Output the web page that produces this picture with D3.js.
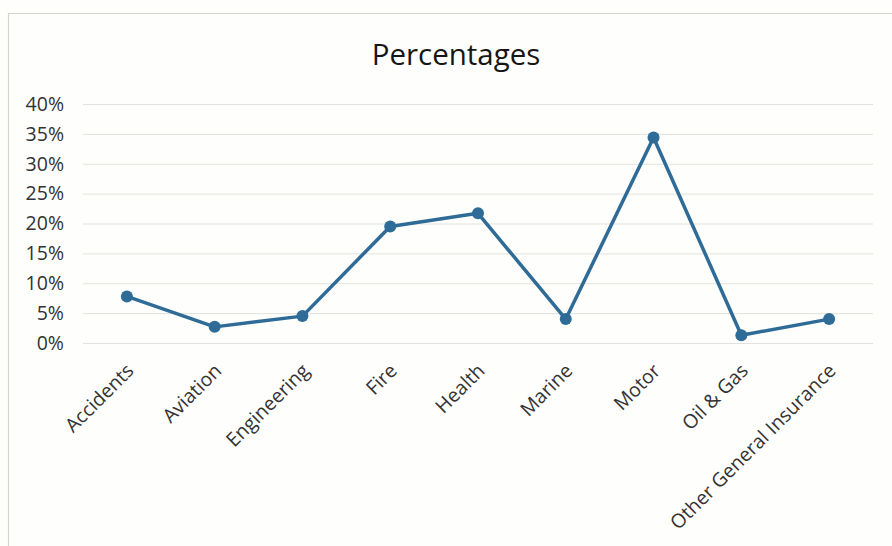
<!DOCTYPE html>
<html>
<head>
<meta charset="utf-8">
<script src="https://cdn.jsdelivr.net/npm/d3@7/dist/d3.min.js"></script>
<style>
  html, body { margin: 0; padding: 0; background: #fefefc; }
  svg { display: block; font-family: "Open Sans", Lato, sans-serif; }
</style>
</head>
<body>
<svg id="chart" width="892" height="546"></svg>
<script>
// Share of premiums by line of business
const categories = ["Accidents", "Aviation", "Engineering", "Fire", "Health", "Marine", "Motor", "Oil & Gas", "Other General Insurance"];
const percentages = [7.8, 2.7, 4.5, 19.5, 21.7, 4.0, 34.4, 1.3, 4.0];
const yTicks = [0, 5, 10, 15, 20, 25, 30, 35, 40];
const title = "Percentages";

const svg = d3.select("#chart");
const W = 892, H = 546;
const plot = { left: 83, right: 873, top: 104, bottom: 343 };

// chart frame
svg.append("path")
  .attr("d", `M8.5,${H} L8.5,13.5 L${W},13.5`)
  .attr("fill", "none")
  .attr("stroke", "#d4d4cc")
  .attr("stroke-width", 1.2);

svg.append("text")
  .attr("x", 456).attr("y", 65)
  .attr("text-anchor", "middle")
  .attr("font-size", 29.5)
  .attr("fill", "#161616")
  .text(title);

const x = d3.scaleBand().domain(categories).range([plot.left, plot.right]);
const y = d3.scaleLinear().domain([0, 40]).range([plot.bottom, plot.top]);

// horizontal gridlines
svg.append("g")
  .selectAll("line")
  .data(yTicks)
  .join("line")
  .attr("x1", plot.left).attr("x2", plot.right)
  .attr("y1", d => y(d) + 0.5).attr("y2", d => y(d) + 0.5)
  .attr("stroke", "#e2e2dc")
  .attr("stroke-width", 1);

// y axis labels
const yAxis = d3.axisLeft(y).tickValues(yTicks).tickFormat(d => d + "%").tickSize(0).tickPadding(0);
const gy = svg.append("g").attr("transform", `translate(64,0)`).call(yAxis);
gy.select(".domain").remove();
gy.selectAll("text").attr("font-size", 19.5).attr("fill", "#333333").attr("font-family", "'Open Sans', Lato, sans-serif");

// x axis labels, rotated
const xAxis = d3.axisBottom(x).tickSize(0).tickPadding(0);
const gx = svg.append("g").attr("transform", `translate(0,${plot.bottom})`).call(xAxis);
gx.select(".domain").remove();
gx.selectAll("text")
  .attr("font-size", 19.5)
  .attr("fill", "#333333")
  .attr("font-family", "'Open Sans', Lato, sans-serif")
  .attr("text-anchor", "end")
  .attr("dy", null)
  .attr("transform", "translate(8,29) rotate(-45)");

// series line and markers
const line = d3.line()
  .x((d, i) => x(categories[i]) + x.bandwidth() / 2)
  .y(d => y(d));

svg.append("path")
  .datum(percentages)
  .attr("d", line)
  .attr("fill", "none")
  .attr("stroke", "#2e6b97")
  .attr("stroke-width", 3.5)
  .attr("stroke-linejoin", "round");

svg.append("g")
  .selectAll("circle")
  .data(percentages)
  .join("circle")
  .attr("cx", (d, i) => x(categories[i]) + x.bandwidth() / 2)
  .attr("cy", d => y(d))
  .attr("r", 6)
  .attr("fill", "#2e6b97");
</script>
</body>
</html>
